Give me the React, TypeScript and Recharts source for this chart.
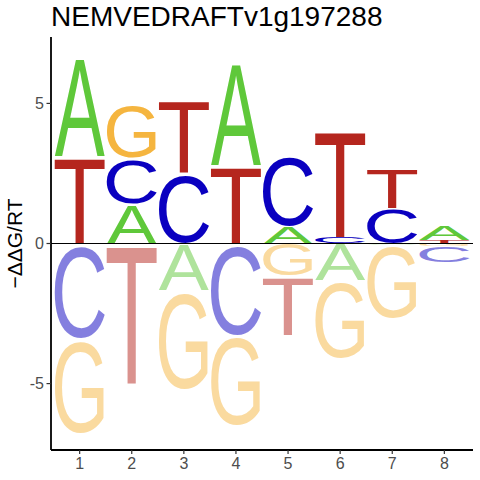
import React from "react";
import { BarChart, Bar, XAxis, YAxis, ReferenceLine } from "recharts";

// sequence logo: letters stacked per position, bottom -> top above zero, zero -> down below
const positions = ["1", "2", "3", "4", "5", "6", "7", "8"];

const upLetters = [
  ["T", "A"],
  ["A", "C", "G"],
  ["C", "T"],
  ["T", "A"],
  ["A", "C"],
  ["C", "T"],
  ["C", "T"],
  ["T", "A"],
];
const upHeights = [
  [3.14, 3.54],
  [1.43, 1.61, 1.89],
  [2.52, 2.6],
  [2.79, 3.69],
  [0.63, 2.57],
  [0.22, 3.85],
  [1.26, 1.42],
  [0.12, 0.54],
];

const downLetters = [
  ["C", "G"],
  ["T"],
  ["A", "G"],
  ["C", "G"],
  ["G", "T"],
  ["A", "G"],
  ["A", "G"],
  ["G", "C"],
];
const downHeights = [
  [3.39, 3.39],
  [5.03],
  [1.67, 3.54],
  [3.27, 3.24],
  [1.15, 2.1],
  [1.31, 2.77],
  [0.06, 2.62],
  [0.09, 0.57],
];

const yTicks = [-5, 0, 5];
const title = "NEMVEDRAFTv1g197288";
const yLabel = "\u2212\u0394\u0394G/RT";

const colors: Record<string, string> = {
  A: "#5FC83A",
  C: "#0A00C0",
  G: "#F5B53F",
  T: "#B5261E",
};

// ink box of each glyph in em units (Arial / Liberation Sans)
const glyphBox: Record<string, [number, number, number, number]> = {
  A: [0.0, 0.667, 0, 0.716],
  C: [0.05, 0.684, -0.012, 0.728],
  G: [0.047, 0.721, -0.012, 0.728],
  T: [0.022, 0.589, 0, 0.716],
};

const FONT = "'Liberation Sans', Arial, sans-serif";

const rows = positions.map((pos, i) => {
  const row: Record<string, any> = { pos };
  for (let k = 0; k < 3; k++) {
    row[`u${k}`] = upHeights[i][k] ?? 0;
    row[`u${k}L`] = upLetters[i][k] ?? "";
  }
  for (let k = 0; k < 2; k++) {
    row[`d${k}`] = -(downHeights[i][k] ?? 0);
    row[`d${k}L`] = downLetters[i][k] ?? "";
  }
  return row;
});

const makeLetter = (key: string, negative: boolean) => (props: any) => {
  const { x, y, width, height, payload } = props;
  const letter = payload ? payload[`${key}L`] : "";
  const h = Math.abs(height);
  if (!letter || !h || h < 0.05) return <g />;
  const top = Math.min(y, y + height);
  const F = 100;
  const [x0, x1, y0, y1] = glyphBox[letter];
  const sx = width / ((x1 - x0) * F);
  const sy = h / ((y1 - y0) * F);
  const tx = x - x0 * F * sx;
  const ty = top + y1 * F * sy;
  return (
    <text
      x={0}
      y={0}
      fontSize={F}
      fontFamily={FONT}
      fill={colors[letter]}
      fillOpacity={negative ? 0.5 : 1}
      transform={`translate(${tx},${ty}) scale(${sx},${sy})`}
    >
      {letter}
    </text>
  );
};

const YLabel = (props: any) => {
  const vb = props.viewBox || {};
  const cx = 14;
  const cy = (vb.y ?? 37) + (vb.height ?? 413) / 2;
  return (
    <text
      x={cx}
      y={cy}
      transform={`rotate(-90, ${cx}, ${cy})`}
      textAnchor="middle"
      dominantBaseline="central"
      fontSize={21}
      fontFamily={FONT}
      fill="#000"
    >
      {yLabel}
    </text>
  );
};

const upKeys = ["u0", "u1", "u2"];
const downKeys = ["d0", "d1"];

export default function App() {
  return (
    <div
      style={{
        position: "absolute",
        left: 0,
        top: 0,
        width: 480,
        height: 480,
        background: "#fff",
        fontFamily: FONT,
      }}
    >
      <div
        style={{
          position: "absolute",
          left: 51,
          top: 3,
          fontSize: 28,
          lineHeight: "28px",
          color: "#000",
          whiteSpace: "nowrap",
        }}
      >
        {title}
      </div>
      <BarChart
        width={480}
        height={480}
        data={rows}
        stackOffset="sign"
        barCategoryGap="2%"
        margin={{ top: 37, right: 7, bottom: 0, left: 0 }}
      >
        <XAxis
          dataKey="pos"
          height={30}
          padding={{ left: 2.6, right: 2.6 }}
          axisLine={{ stroke: "#000", strokeWidth: 1.8 }}
          tickLine={{ stroke: "#333", strokeWidth: 1.2 }}
          tickSize={4}
          tickMargin={4}
          tick={{ fill: "#4D4D4D", fontSize: 16, fontFamily: FONT }}
        />
        <YAxis
          type="number"
          domain={[-7.37, 7.37]}
          ticks={yTicks}
          allowDataOverflow
          width={51}
          axisLine={{ stroke: "#000", strokeWidth: 1.8 }}
          tickLine={{ stroke: "#333", strokeWidth: 1.2 }}
          tickSize={4.5}
          tickMargin={2.5}
          tick={{ fill: "#4D4D4D", fontSize: 16, fontFamily: FONT }}
          label={{ content: YLabel }}
        />
        {upKeys.map((k) => (
          <Bar
            key={k}
            dataKey={k}
            stackId="logo"
            isAnimationActive={false}
            shape={makeLetter(k, false)}
          />
        ))}
        {downKeys.map((k) => (
          <Bar
            key={k}
            dataKey={k}
            stackId="logo"
            isAnimationActive={false}
            shape={makeLetter(k, true)}
          />
        ))}
        <ReferenceLine y={0} stroke="#000" strokeWidth={1} />
      </BarChart>
    </div>
  );
}
